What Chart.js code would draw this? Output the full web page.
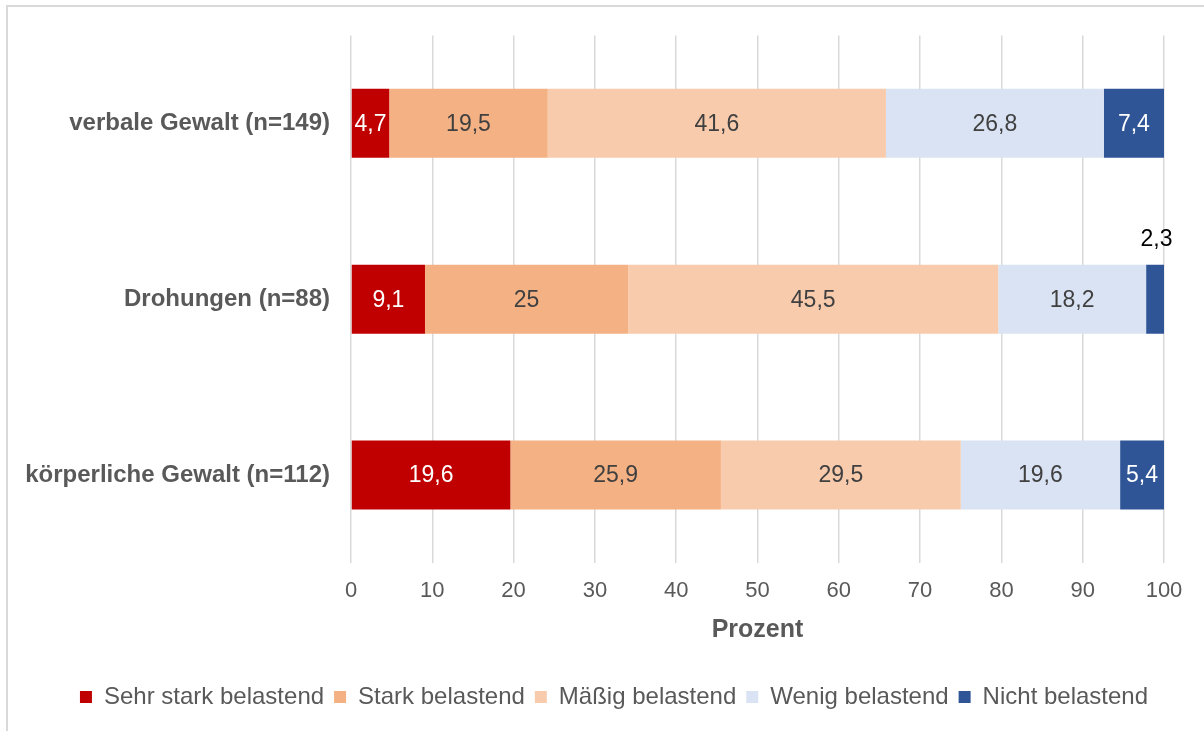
<!DOCTYPE html>
<html>
<head>
<meta charset="utf-8">
<script src="https://cdn.jsdelivr.net/npm/chart.js@4/dist/chart.umd.min.js"></script>
<style>
  html, body { margin: 0; padding: 0; background: #fff; }
  #wrap { position: relative; width: 1204px; height: 731px; overflow: hidden; }
  #frame { position: absolute; left: 6px; top: 5px; width: 1400px; height: 900px; border: 2px solid #d9d9d9; box-sizing: border-box; }
  canvas { position: absolute; left: 0; top: 0; }
</style>
</head>
<body>
<div id="wrap">
  <div id="frame"></div>
  <canvas id="c" width="1204" height="731"></canvas>
</div>
<script>
const categories = ["verbale Gewalt (n=149)", "Drohungen (n=88)", "körperliche Gewalt (n=112)"];
const seriesNames = ["Sehr stark belastend", "Stark belastend", "Mäßig belastend", "Wenig belastend", "Nicht belastend"];
const sehrStark = [4.7, 9.1, 19.6];
const stark = [19.5, 25, 25.9];
const maessig = [41.6, 45.5, 29.5];
const wenig = [26.8, 18.2, 19.6];
const nicht = [7.4, 2.3, 5.4];
const xTicks = [0, 10, 20, 30, 40, 50, 60, 70, 80, 90, 100];

const seriesValues = [sehrStark, stark, maessig, wenig, nicht];
const colors = ["#C00000", "#F4B183", "#F8CBAD", "#DAE3F3", "#2F5597"];
const labelColors = ["#ffffff", "#404040", "#404040", "#404040", "#ffffff"];
const FONT = "'Liberation Sans', Arial, sans-serif";

const labelPlugin = {
  id: 'segLabels',
  afterLayout(chart) {
    const lg = chart.legend;
    if (lg) { lg.left += 32; lg.right += 32; }
  },
  afterDatasetsDraw(chart) {
    const ctx = chart.ctx;
    ctx.save();
    ctx.font = "23px " + FONT;
    ctx.textAlign = 'center';
    ctx.textBaseline = 'middle';
    chart.data.datasets.forEach((ds, di) => {
      const meta = chart.getDatasetMeta(di);
      meta.data.forEach((bar, i) => {
        const v = ds.data[i];
        const txt = v.toLocaleString('de-DE');
        const left = Math.min(bar.x, bar.base), right = Math.max(bar.x, bar.base);
        const w = right - left;
        const cx = (left + right) / 2;
        const tw = ctx.measureText(txt).width;
        if (w < tw + 4) {
          ctx.fillStyle = '#000000';
          ctx.fillText(txt, cx + 1, bar.y - bar.height / 2 - 25);
        } else {
          ctx.fillStyle = labelColors[di];
          ctx.fillText(txt, cx, bar.y + 1);
        }
      });
    });
    ctx.restore();
  }
};

const datasets = seriesNames.map((name, k) => ({
  label: name,
  data: seriesValues[k],
  backgroundColor: colors[k],
  borderWidth: 0,
  barPercentage: 0.8,
  categoryPercentage: 0.49
}));

new Chart(document.getElementById('c'), {
  type: 'bar',
  data: { labels: categories, datasets },
  options: {
    indexAxis: 'y',
    responsive: false,
    animation: false,
    devicePixelRatio: 1,
    layout: { padding: { top: 35, right: 40, left: 0, bottom: 12 } },
    scales: {
      x: {
        stacked: true,
        min: 0, max: 100,
        afterBuildTicks: (axis) => { axis.ticks = xTicks.map(v => ({ value: v })); },
        grid: { color: '#d9d9d9', lineWidth: 1.5, drawTicks: false },
        border: { display: false },
        ticks: { color: '#595959', font: { family: FONT, size: 22 }, padding: 15, maxRotation: 0 },
        title: { display: true, text: 'Prozent', color: '#595959', font: { family: FONT, size: 25, weight: 'bold' }, padding: { top: 6, bottom: 30 } },
        afterFit: (scale) => { scale.height = 112; }
      },
      y: {
        stacked: true,
        grid: { display: false, drawTicks: false },
        border: { display: false },
        ticks: { color: '#595959', font: { family: FONT, size: 24, weight: 'bold' }, padding: 21 },
        afterFit: (scale) => { scale.width = 351; }
      }
    },
    plugins: {
      legend: {
        position: 'bottom',
        labels: {
          color: '#595959',
          font: { family: FONT, size: 24 },
          boxWidth: 12, boxHeight: 12,
          padding: 10
        }
      },
      tooltip: { enabled: false }
    }
  },
  plugins: [labelPlugin]
});
</script>
</body>
</html>
